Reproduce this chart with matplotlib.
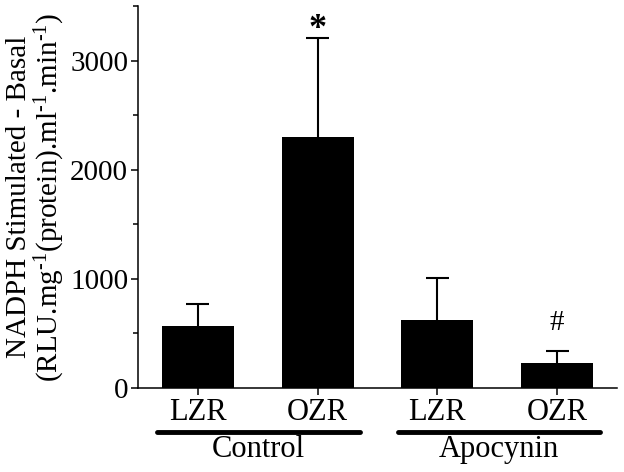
import matplotlib.pyplot as plt
from matplotlib.ticker import MultipleLocator

plt.rcParams['font.family'] = ['Liberation Serif', 'DejaVu Serif']
plt.rcParams['mathtext.fontset'] = 'custom'
plt.rcParams['mathtext.rm'] = 'Liberation Serif'
plt.rcParams['mathtext.it'] = 'Liberation Serif:italic'

# === Data ===
strains = ["LZR", "OZR", "LZR", "OZR"]
groups = ["Control", "Apocynin"]
means = [565, 2303, 624, 229]
errors = [205, 905, 385, 110]
marks = ["", "*", "", "#"]

x = list(range(len(strains)))

# === Plot ===
fig = plt.figure(figsize=(6.24, 4.72), dpi=100)
ax = fig.add_axes([0.221, 0.178, 0.768, 0.809])

ax.bar(x, means, width=0.6, color="black", zorder=2)
# upper error bars only
tops = [m + e for m, e in zip(means, errors)]
ax.vlines(x, means, tops, color="black", lw=1.5, zorder=1)
ax.errorbar(x, tops, xerr=0.095, fmt="none", ecolor="black",
            elinewidth=1.5, capsize=0, zorder=1)

# significance marks
ax.text(x[1], 3290, marks[1], ha="center", va="center",
        fontsize=26, fontweight="bold")
ax.text(x[3], 596, marks[3], ha="center", va="center", fontsize=21)

ax.set_xlim(-0.5, 3.5)
ax.set_ylim(0, 3500)
ax.yaxis.set_major_locator(MultipleLocator(1000))
ax.yaxis.set_minor_locator(MultipleLocator(500))
ax.set_xticks(x)
ax.set_xticklabels(strains, fontsize=22)
ax.tick_params(axis="y", labelsize=21, pad=2)
ax.tick_params(which="major", direction="out", length=5, width=1.1)
ax.tick_params(which="minor", direction="out", length=3.5, width=1.1)
ax.tick_params(axis="x", pad=2)

for s in ["top", "right"]:
    ax.spines[s].set_visible(False)
for s in ["left", "bottom"]:
    ax.spines[s].set_linewidth(1.1)

sup = r"$^{\text{-}1}$"
ax.set_ylabel("NADPH Stimulated - Basal\n"
              f"(RLU.mg{sup}(protein).ml{sup}.min{sup})",
              fontsize=21, linespacing=1.05, labelpad=2)

# group bars + labels below the axis
trans = ax.get_xaxis_transform()
spans = [(-0.34, 1.35), (1.67, 3.36)]
for (a, b), g in zip(spans, groups):
    ax.plot([a, b], [-0.115, -0.115], transform=trans, color="black",
            lw=3.5, solid_capstyle="round", clip_on=False)
    ax.text((a + b) / 2, -0.162, g, transform=trans, ha="center",
            va="center", fontsize=22)

fig.savefig("out.png", dpi=100)
